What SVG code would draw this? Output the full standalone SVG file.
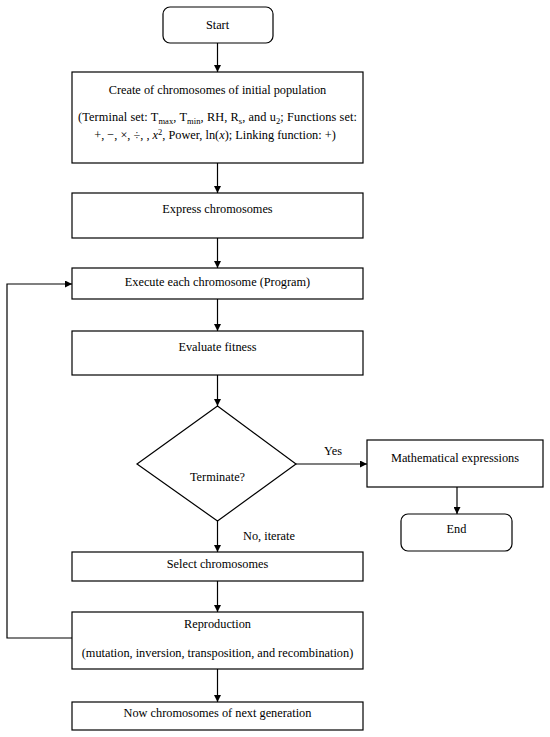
<svg xmlns="http://www.w3.org/2000/svg" width="550" height="737" viewBox="0 0 550 737">
<style>
.b{fill:#fff;stroke:#000;stroke-width:1.2}
.c{fill:none;stroke:#000;stroke-width:1.2}
text{font-family:"Liberation Serif","Times New Roman",serif;font-size:12.3px;fill:#000;text-anchor:middle}
.s{font-size:8.5px}
</style>
<defs>
<marker id="a" viewBox="0 0 10 10" refX="10" refY="5" markerWidth="7" markerHeight="7" orient="auto" markerUnits="userSpaceOnUse"><path d="M0,0 L10,5 L0,10 z" fill="#000"/></marker>
</defs>
<rect width="550" height="737" fill="#fff"/>
<g id="connectors">
<line class="c" x1="217.5" y1="43" x2="217.5" y2="72" marker-end="url(#a)"/>
<line class="c" x1="217.5" y1="163" x2="217.5" y2="193" marker-end="url(#a)"/>
<line class="c" x1="217.5" y1="238" x2="217.5" y2="268" marker-end="url(#a)"/>
<line class="c" x1="217.5" y1="299" x2="217.5" y2="331" marker-end="url(#a)"/>
<line class="c" x1="217.5" y1="375" x2="217.5" y2="406" marker-end="url(#a)"/>
<line class="c" x1="296" y1="464" x2="367" y2="464" marker-end="url(#a)"/>
<line class="c" x1="457" y1="487" x2="457" y2="514" marker-end="url(#a)"/>
<line class="c" x1="217.5" y1="521" x2="217.5" y2="552" marker-end="url(#a)"/>
<line class="c" x1="217.5" y1="581" x2="217.5" y2="612" marker-end="url(#a)"/>
<line class="c" x1="217.5" y1="669" x2="217.5" y2="702" marker-end="url(#a)"/>
<polyline class="c" points="72,638 7,638 7,284 72,284" marker-end="url(#a)"/>
<text x="333" y="455">Yes</text>
<text x="269" y="540">No, iterate</text>
</g>
<g id="start">
<rect class="b" x="163" y="7" width="110" height="36" rx="7"/>
<text x="217.5" y="29">Start</text>
</g>
<g id="create">
<rect class="b" x="72" y="72" width="291" height="91"/>
<text x="217.5" y="94">Create of chromosomes of initial population</text>
<text x="217.5" y="121" textLength="279" lengthAdjust="spacing">(Terminal set: T<tspan class="s" dy="3">max</tspan><tspan dy="-3">, T</tspan><tspan class="s" dy="3">min</tspan><tspan dy="-3">, RH, R</tspan><tspan class="s" dy="3">s</tspan><tspan dy="-3">, and u</tspan><tspan class="s" dy="3">2</tspan><tspan dy="-3">; Functions set:</tspan></text>
<text x="215" y="139" font-size="11.6">+, −, ×, ÷, , <tspan font-style="italic">x</tspan><tspan class="s" dy="-4">2</tspan><tspan dy="4">, Power, ln(</tspan><tspan font-style="italic">x</tspan>); Linking function: +)</text>
</g>
<g id="express">
<rect class="b" x="72" y="193" width="291" height="45"/>
<text x="217.5" y="213">Express chromosomes</text>
</g>
<g id="execute">
<rect class="b" x="72" y="268" width="291" height="31"/>
<text x="217.5" y="286">Execute each chromosome (Program)</text>
</g>
<g id="evaluate">
<rect class="b" x="72" y="331" width="291" height="44"/>
<text x="217.5" y="351">Evaluate fitness</text>
</g>
<g id="terminate">
<polygon class="b" points="217.5,406 296,464 217.5,521 137,464"/>
<text x="217.5" y="481">Terminate?</text>
</g>
<g id="math">
<rect class="b" x="367" y="440" width="176" height="47"/>
<text x="455" y="462">Mathematical expressions</text>
</g>
<g id="end">
<rect class="b" x="401" y="514" width="111" height="37" rx="7"/>
<text x="456.5" y="533">End</text>
</g>
<g id="select">
<rect class="b" x="72" y="552" width="291" height="29"/>
<text x="217.5" y="568">Select chromosomes</text>
</g>
<g id="reproduction">
<rect class="b" x="72" y="612" width="291" height="57"/>
<text x="217.5" y="628">Reproduction</text>
<text x="217.5" y="657">(mutation, inversion, transposition, and recombination)</text>
</g>
<g id="next">
<rect class="b" x="72" y="702" width="291" height="28"/>
<text x="217.5" y="717">Now chromosomes of next generation</text>
</g>
</svg>
